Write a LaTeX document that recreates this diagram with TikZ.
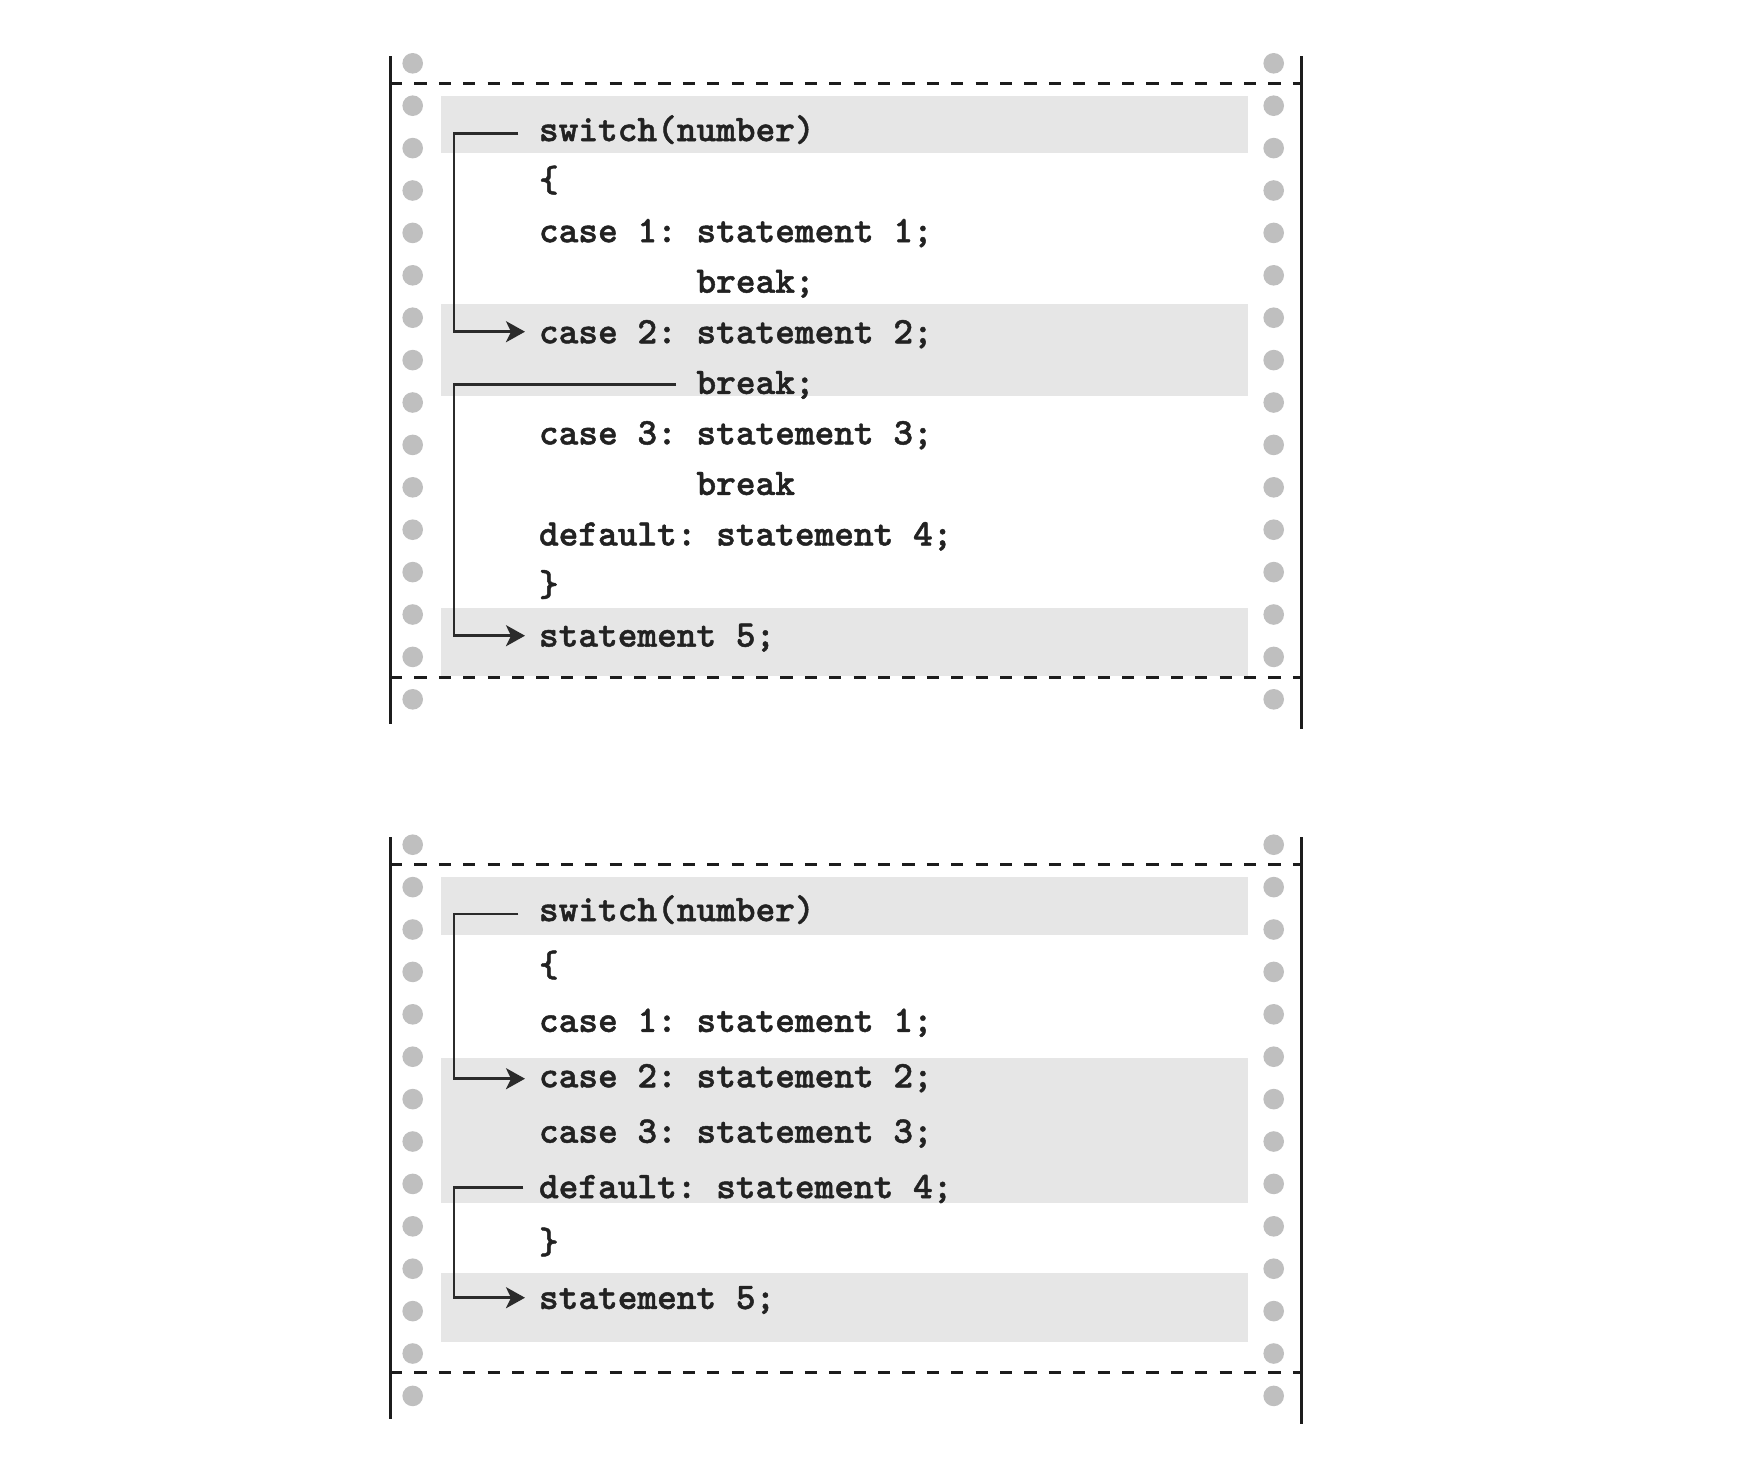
\documentclass[tikz,border=0pt]{standalone}
\usepackage{fontspec}
\usetikzlibrary{arrows.meta}
\newfontfamily\codefont{lmmonolt10-bold.otf}[FakeBold=1.2]
\definecolor{boxgray}{HTML}{E6E6E6}
\definecolor{dotgray}{HTML}{BFBFBF}
\definecolor{rulecol}{HTML}{1C1C1C}
\definecolor{conncol}{HTML}{2B2B2B}
\definecolor{codecol}{HTML}{222222}
\tikzset{
  codeline/.style={anchor=base west, inner sep=0pt, outer sep=0pt, text=codecol,
    font=\codefont\fontsize{37.5}{45}\selectfont\frenchspacing},
  arrowconn/.style={draw=conncol, line width=2.7pt, line join=miter,
    -{Stealth[length=19pt,width=21pt,inset=5pt]}},
  sideline/.style={draw=rulecol, line width=3pt},
  perf/.style={draw=rulecol, line width=3.3pt, dash pattern=on 12.2pt off 12.2pt},
  hole/.style={fill=dotgray},
  band/.style={fill=boxgray},
}
\begin{document}
\begin{tikzpicture}[x=1pt,y=-1pt]
\useasboundingbox (0,0) rectangle (1738,1468);
\fill[white] (0,0) rectangle (1738,1468);

% ---------------- top panel ----------------
\fill[band] (441,96) rectangle (1248,153.3);
\fill[band] (441,303.5) rectangle (1248,396);
\fill[band] (441,608.3) rectangle (1248,675.5);
\draw[sideline] (390,56) -- (390,724);
\draw[sideline] (1301.5,56) -- (1301.5,729.3);
\draw[perf] (390,83.5) -- (1301.5,83.5);
\draw[perf] (390,677.3) -- (1301.5,677.3);
\foreach \k in {0,...,15}{
  \fill[hole] (412.7,63.3+42.4*\k) circle[radius=10.3];
  \fill[hole] (1273.7,63.3+42.4*\k) circle[radius=10.3];
}
\node[codeline] (a1) at (539,141.1) {switch(number)};
\node[codeline] (a2) at (539,191.6) {\{};
\node[codeline] (a3) at (539,242.2) {case 1: statement 1;};
\node[codeline] (a4) at (696.5,292.7) {break;};
\node[codeline] (a5) at (539,343.3) {case 2: statement 2;};
\node[codeline] (a6) at (696.5,393.9) {break;};
\node[codeline] (a7) at (539,444.4) {case 3: statement 3;};
\node[codeline] (a8) at (696.5,494.9) {break};
\node[codeline] (a9) at (539,545.5) {default: statement 4;};
\node[codeline] (a10) at (539,596.0) {\}};
\node[codeline] (a11) at (539,646.6) {statement 5;};

\coordinate (rail) at (454,0);
\coordinate (a1s) at ([shift={(-20.7,-7.8)}]a1.base west);
\coordinate (a5e) at ([shift={(-14,-11.6)}]a5.base west);
\coordinate (a6s) at ([shift={(-20.5,-9.6)}]a6.base west);
\coordinate (a11e) at ([shift={(-14,-10.9)}]a11.base west);
\draw[arrowconn] (a1s) -- (a1s -| rail) |- (a5e);
\draw[arrowconn] (a6s) -- (a6s -| rail) |- (a11e);

% ---------------- bottom panel ----------------
\fill[band] (441,877.3) rectangle (1248,934.7);
\fill[band] (441,1058.3) rectangle (1248,1202.7);
\fill[band] (441,1272.7) rectangle (1248,1341.5);
\draw[sideline] (390,837.3) -- (390,1419.3);
\draw[sideline] (1301.5,837.3) -- (1301.5,1424);
\draw[perf] (390,864.3) -- (1301.5,864.3);
\draw[perf] (390,1372.3) -- (1301.5,1372.3);
\foreach \k in {0,...,13}{
  \fill[hole] (412.7,844.7+42.4*\k) circle[radius=10.3];
  \fill[hole] (1273.7,844.7+42.4*\k) circle[radius=10.3];
}
\node[codeline] (b1) at (539,921.1) {switch(number)};
\node[codeline] (b2) at (539,976.5) {\{};
\node[codeline] (b3) at (539,1031.9) {case 1: statement 1;};
\node[codeline] (b4) at (539,1087.3) {case 2: statement 2;};
\node[codeline] (b5) at (539,1142.7) {case 3: statement 3;};
\node[codeline] (b6) at (539,1198.1) {default: statement 4;};
\node[codeline] (b7) at (539,1253.5) {\}};
\node[codeline] (b8) at (539,1308.9) {statement 5;};

\coordinate (b1s) at ([shift={(-20.7,-7.1)}]b1.base west);
\coordinate (b4e) at ([shift={(-14,-8.6)}]b4.base west);
\coordinate (b6s) at ([shift={(-15.7,-10.8)}]b6.base west);
\coordinate (b8e) at ([shift={(-14,-11.2)}]b8.base west);
\draw[arrowconn] (b1s) -- (b1s -| rail) |- (b4e);
\draw[arrowconn] (b6s) -- (b6s -| rail) |- (b8e);
\end{tikzpicture}
\end{document}
